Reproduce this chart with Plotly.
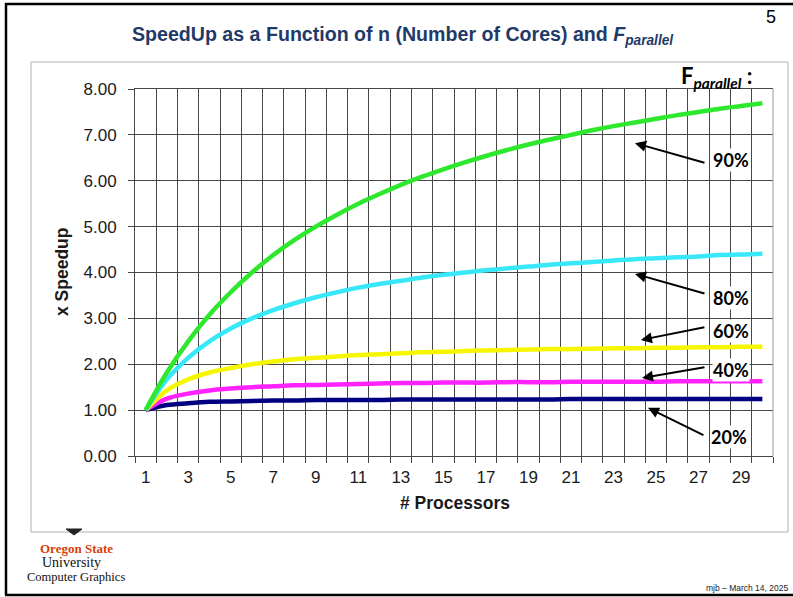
import plotly.graph_objects as go

# ---------------- data ----------------
processors = list(range(1, 31))
x_tick_labels = [str(v) for v in range(1, 30, 2)]

speedup_90 = [1.00, 1.82, 2.50, 3.08, 3.57, 4.00, 4.38, 4.71, 5.00, 5.26,
              5.50, 5.71, 5.91, 6.09, 6.25, 6.40, 6.54, 6.67, 6.79, 6.90,
              7.00, 7.10, 7.19, 7.27, 7.35, 7.43, 7.50, 7.57, 7.63, 7.69]
speedup_80 = [1.00, 1.67, 2.14, 2.50, 2.78, 3.00, 3.18, 3.33, 3.46, 3.57,
              3.67, 3.75, 3.82, 3.89, 3.95, 4.00, 4.05, 4.09, 4.13, 4.17,
              4.20, 4.23, 4.26, 4.29, 4.31, 4.33, 4.35, 4.38, 4.39, 4.41]
speedup_60 = [1.00, 1.43, 1.67, 1.82, 1.92, 2.00, 2.06, 2.11, 2.14, 2.17,
              2.20, 2.22, 2.24, 2.26, 2.27, 2.29, 2.30, 2.31, 2.32, 2.33,
              2.33, 2.34, 2.35, 2.35, 2.36, 2.36, 2.37, 2.37, 2.38, 2.38]
speedup_40 = [1.00, 1.25, 1.36, 1.43, 1.47, 1.50, 1.52, 1.54, 1.55, 1.56,
              1.57, 1.58, 1.59, 1.59, 1.60, 1.60, 1.60, 1.61, 1.61, 1.61,
              1.62, 1.62, 1.62, 1.62, 1.62, 1.63, 1.63, 1.63, 1.63, 1.63]
speedup_20 = [1.00, 1.11, 1.15, 1.18, 1.19, 1.20, 1.21, 1.21, 1.22, 1.22,
              1.22, 1.22, 1.23, 1.23, 1.23, 1.23, 1.23, 1.23, 1.23, 1.23,
              1.24, 1.24, 1.24, 1.24, 1.24, 1.24, 1.24, 1.24, 1.24, 1.24]

series_labels = ["20%", "40%", "60%", "80%", "90%"]
series_values = [speedup_20, speedup_40, speedup_60, speedup_80, speedup_90]
series_colors = ["#000080", "#ff22ff", "#f6f600", "#38e8f8", "#2ee82e"]

# ---------------- geometry helpers (pixels -> paper) ----------------
W, H = 793, 597
L, R, T, B = 135, 773, 89, 456


def px(x):
    return (x - L) / (R - L)


def py(y):
    return (B - y) / (B - T)


fig = go.Figure()
for lab, vals, col in zip(series_labels, series_values, series_colors):
    fig.add_trace(go.Scatter(x=processors, y=vals, mode="lines", name=lab,
                             line=dict(color=col, width=4.5, shape="spline"),
                             hoverinfo="x+y"))

grid_col = "#474747"
tick_font = dict(family="Liberation Sans, Arial, sans-serif", size=17, color="#1a1a1a")

fig.update_layout(
    width=W, height=H,
    margin=dict(l=L, r=W - R, t=T, b=H - B, pad=0),
    paper_bgcolor="white", plot_bgcolor="white",
    showlegend=False,
    xaxis=dict(range=[0.5, 30.5], tickmode="array",
               tickvals=list(range(1, 30, 2)), ticktext=x_tick_labels,
               ticks="outside", ticklen=6, tickcolor="rgba(0,0,0,0)",
               showgrid=False, zeroline=False,
               showline=True, linecolor=grid_col, linewidth=1, mirror=True,
               tickfont=tick_font,
               minor=dict(tick0=0.5, dtick=1, ticks="outside", ticklen=6,
                          tickcolor=grid_col, showgrid=True,
                          gridcolor=grid_col, gridwidth=1)),
    yaxis=dict(range=[0, 8], dtick=1, tick0=0, tickformat=".2f",
               ticks="outside", ticklen=6, tickcolor=grid_col,
               showgrid=True, gridcolor=grid_col, gridwidth=1,
               zeroline=False, showline=True, linecolor=grid_col, linewidth=1,
               tickfont=tick_font, ticklabelstandoff=8),
)

shapes = []
# slide frame
shapes.append(dict(type="line", xref="paper", yref="paper", x0=px(5), x1=px(793), y0=py(4), y1=py(4),
                   line=dict(color="black", width=2.5)))
shapes.append(dict(type="line", xref="paper", yref="paper", x0=px(6), x1=px(6), y0=py(3), y1=py(595),
                   line=dict(color="black", width=2.5)))
shapes.append(dict(type="line", xref="paper", yref="paper", x0=px(5), x1=px(793), y0=py(595), y1=py(595),
                   line=dict(color="black", width=2.5)))
# chart box
shapes.append(dict(type="rect", xref="paper", yref="paper", x0=px(31), x1=px(788), y0=py(62), y1=py(532),
                   line=dict(color="#b0b0b0", width=1), layer="below"))
# plot right border
shapes.append(dict(type="line", xref="paper", yref="paper", x0=1, x1=1, y0=0, y1=1,
                   line=dict(color="#9a9a9a", width=1)))
# logo chevron
shapes.append(dict(type="path", xref="paper", yref="paper",
                   path="M {} {} L {} {} L {} {} Z".format(
                       px(66), py(529), px(82), py(529), px(74), py(535)),
                   fillcolor="#222222", line=dict(color="#222222", width=1)))
fig.update_layout(shapes=shapes)

ann = []
# title
ann.append(dict(xref="paper", yref="paper", x=px(403), y=py(35), xanchor="center", yanchor="middle",
                text="<b>SpeedUp as a Function of n (Number of Cores) and <i>F<sub>parallel</sub></i></b>",
                showarrow=False,
                font=dict(family="Liberation Sans, Arial, sans-serif", size=19.6, color="#1f3a68")))
# page number
ann.append(dict(xref="paper", yref="paper", x=px(771), y=py(17), xanchor="center", yanchor="middle",
                text="5", showarrow=False,
                font=dict(family="Liberation Sans, Arial, sans-serif", size=18, color="black")))
# axis titles
ann.append(dict(xref="paper", yref="paper", x=px(62), y=py(272), xanchor="center", yanchor="middle",
                text="<b>x Speedup</b>", textangle=-90, showarrow=False,
                font=dict(family="Liberation Sans, Arial, sans-serif", size=17.5, color="#1a1a1a")))
ann.append(dict(xref="paper", yref="paper", x=px(455), y=py(503), xanchor="center", yanchor="middle",
                text="<b># Processors</b>", showarrow=False,
                font=dict(family="Liberation Sans, Arial, sans-serif", size=17.5, color="#1a1a1a")))
# legend header
ann.append(dict(xref="paper", yref="paper", x=px(679), y=py(77), xanchor="left", yanchor="middle",
                text="<b>F<sub><i>parallel</i></sub> :</b>", showarrow=False,
                font=dict(family="Lato, sans-serif", size=22, color="black")))

# arrow heads (data coords) and tail offsets (pixels)
arrow_heads = {"90%": (24.01, 6.82, 71, 20), "80%": (24.01, 3.97, 71, 20),
               "60%": (24.29, 2.53, 65, -13), "40%": (24.34, 1.70, 64, -11),
               "20%": (24.62, 1.05, 57, 28)}
label_pos = {"90%": (731, 160), "80%": (731, 298), "60%": (731, 331),
             "40%": (731, 370), "20%": (729, 437)}
for lab in ["90%", "80%", "60%", "40%", "20%"]:
    hx, hy, axo, ayo = arrow_heads[lab]
    ann.append(dict(xref="x", yref="y", x=hx, y=hy, ax=axo, ay=ayo, text="",
                    showarrow=True, arrowhead=2, arrowsize=1.1, arrowwidth=2,
                    arrowcolor="black"))
    tx, ty = label_pos[lab]
    ann.append(dict(xref="paper", yref="paper", x=px(tx), y=py(ty), xanchor="center", yanchor="middle",
                    text="<b>" + lab + "</b>", showarrow=False, bgcolor="white", borderpad=0,
                    font=dict(family="Lato, sans-serif", size=18, color="black")))

# logo text
ann.append(dict(xref="paper", yref="paper", x=px(76), y=py(548), xanchor="center", yanchor="middle",
                text="<b>Oregon State</b>", showarrow=False,
                font=dict(family="Liberation Serif, serif", size=13, color="#d73f09")))
ann.append(dict(xref="paper", yref="paper", x=px(71), y=py(562), xanchor="center", yanchor="middle",
                text="University", showarrow=False,
                font=dict(family="Liberation Serif, serif", size=14, color="#111111")))
ann.append(dict(xref="paper", yref="paper", x=px(76), y=py(577), xanchor="center", yanchor="middle",
                text="Computer Graphics", showarrow=False,
                font=dict(family="Liberation Serif, serif", size=12.5, color="#111111")))
# footer
ann.append(dict(xref="paper", yref="paper", x=px(790), y=py(588), xanchor="right", yanchor="middle",
                text="mjb \u2013 March 14, 2025", showarrow=False,
                font=dict(family="Liberation Sans, Arial, sans-serif", size=8.5, color="#222222")))

fig.update_layout(annotations=ann)
fig.write_html("out.html", config={"displayModeBar": False},
               post_script="document.body.style.margin='0';document.body.style.padding='0';"
                           "document.body.style.overflow='hidden';")
